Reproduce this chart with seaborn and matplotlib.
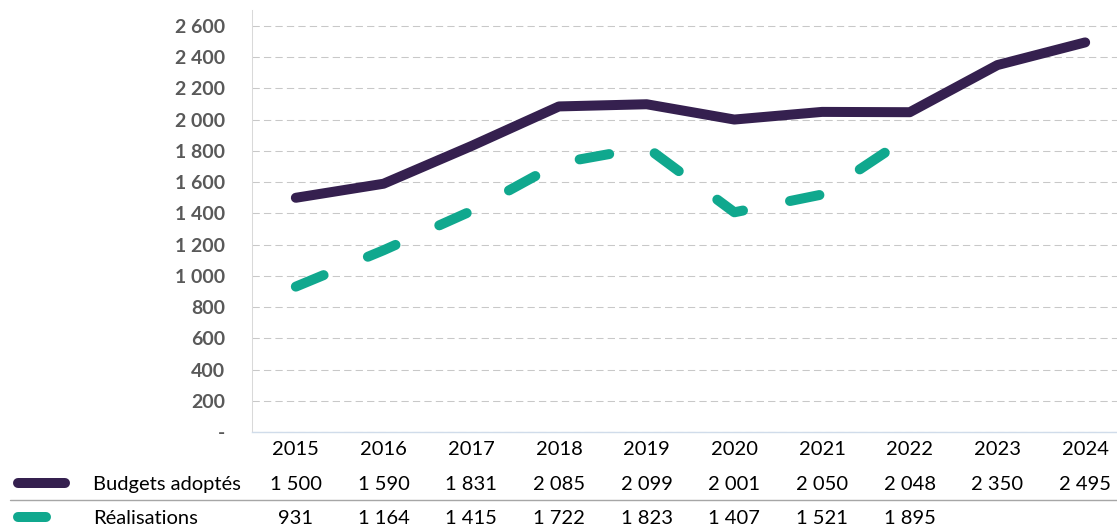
import numpy as np
import pandas as pd
import seaborn as sns
import matplotlib.pyplot as plt
import matplotlib.transforms as mtransforms
from matplotlib.lines import Line2D

# Data
years = ['2015', '2016', '2017', '2018', '2019', '2020', '2021', '2022', '2023', '2024']
budgets = [1500, 1590, 1831, 2085, 2099, 2001, 2050, 2048, 2350, 2495]
realisations = [931, 1164, 1415, 1722, 1823, 1407, 1521, 1895, np.nan, np.nan]
series_names = ['Budgets adoptés', 'Réalisations']
series_colors = ['#35204f', '#10a88e']
yticks = list(range(0, 2601, 200))


def fmt(v):
    if v == 0:
        return '-'
    return f"{int(v):,}".replace(',', ' ')


sns.set_theme(style='white')
plt.rcParams['font.family'] = ['Lato', 'DejaVu Sans']

W, H = 1117, 527
fig = plt.figure(figsize=(W / 100, H / 100), dpi=100)
# plot area: left edge at 252 px, 0 at y=432 px, 10 categories 87.7 px wide
ax = fig.add_axes([252 / W, 1 - 432 / H, 877 / W, (432 - 10.4) / H])

pos = np.arange(len(years))
df = pd.DataFrame({'pos': pos, 'budgets': budgets, 'realisations': realisations})

sns.lineplot(data=df, x='pos', y='budgets', ax=ax, color=series_colors[0],
             linewidth=7.2, solid_capstyle='round', solid_joinstyle='round')
sns.lineplot(data=df.dropna(), x='pos', y='realisations', ax=ax, color=series_colors[1],
             linewidth=7.2, dash_capstyle='round', dash_joinstyle='round')
ax.lines[-1].set_dashes((3, 4.8))

ax.set_xlim(-0.5, len(years) - 0.5)
ax.set_ylim(0, 2700)
ax.set_xlabel('')
ax.set_ylabel('')

# y axis
ax.set_yticks(yticks)
ax.set_yticklabels([fmt(v) for v in yticks], fontweight='bold', color='#595959', fontsize=14)
ax.tick_params(axis='y', length=0, pad=19.5)
ax.yaxis.grid(True, color='#c8c8c8', linestyle=(0, (7, 4)), linewidth=0.75)
ax.set_axisbelow(True)

# x axis (years)
ax.set_xticks(pos)
ax.set_xticklabels(years, fontsize=14.5, color='black')
ax.tick_params(axis='x', length=0, pad=6.5)

for side in ['top', 'right']:
    ax.spines[side].set_visible(False)
ax.spines['left'].set_color('#d9d9d9')
ax.spines['left'].set_linewidth(0.75)
ax.spines['bottom'].set_color('#d0dcea')
ax.spines['bottom'].set_linewidth(1.0)
ax.spines['bottom'].set_zorder(3)

# data table below the chart
trans = mtransforms.blended_transform_factory(ax.transData, fig.transFigure)
rows = [budgets, realisations]
row_baselines = [490, 524]
key_ends = [65, 46]
for vals, name, color, base, kend in zip(rows, series_names, series_colors, row_baselines, key_ends):
    for i, v in enumerate(vals):
        if np.isnan(v):
            continue
        ax.text(i, 1 - base / H, fmt(v), ha='center', va='baseline',
                fontsize=14.5, color='black', transform=trans)
    fig.text(93 / W, 1 - base / H, name, ha='left', va='baseline', fontsize=14.5, color='black')
    yk = 1 - (base - 7) / H
    fig.add_artist(Line2D([18 / W, kend / W], [yk, yk], color=color, linewidth=7.2,
                          solid_capstyle='round'))

# separator between the table rows
fig.add_artist(Line2D([10 / W, 1.0], [1 - 500 / H, 1 - 500 / H], color='#a6a6a6', linewidth=1.0))

fig.savefig('out.png', dpi=100)
